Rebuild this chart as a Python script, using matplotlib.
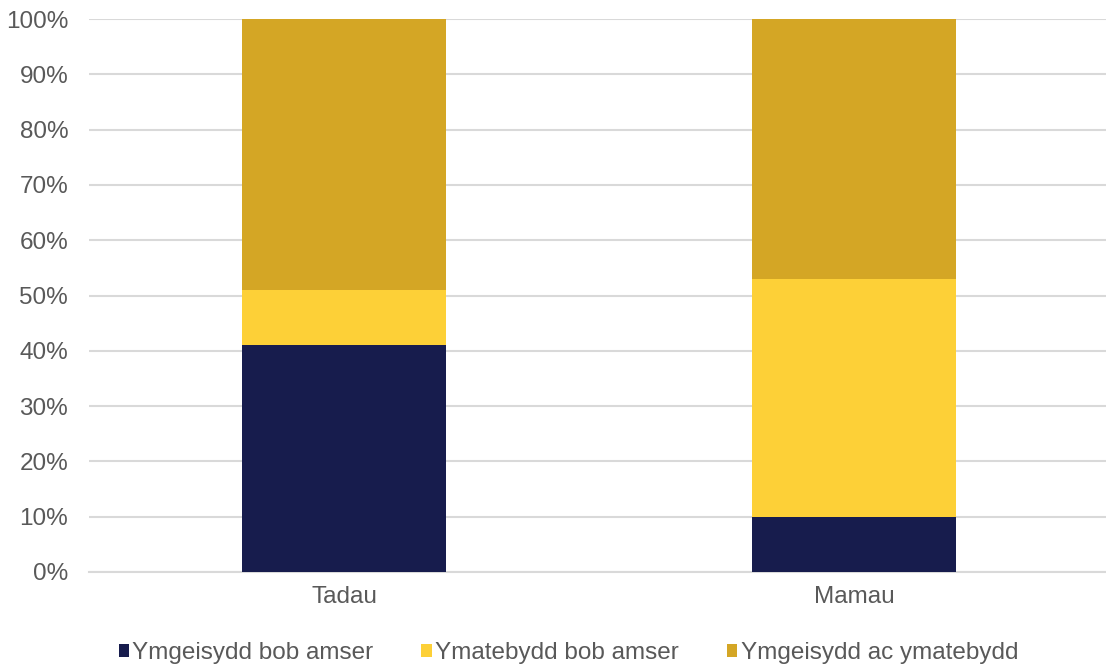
import matplotlib
matplotlib.use("Agg")
import matplotlib.pyplot as plt
import numpy as np

categories = ["Tadau", "Mamau"]
series_names = ["Ymgeisydd bob amser", "Ymatebydd bob amser", "Ymgeisydd ac ymatebydd"]
ymgeisydd = [41, 10]
ymatebydd = [10, 43]
y_ac_y = [49, 47]
colors = ["#171c4d", "#fdd037", "#d4a625"]

plt.rcParams['font.family'] = ['Liberation Sans', 'DejaVu Sans']
fig = plt.figure(figsize=(11.06, 6.66), dpi=100)
ax = fig.add_axes([89/1106, 1-572/666, 1020/1106, (572-19)/666])

x = np.arange(len(categories))
bottom = np.zeros(len(categories))
for vals, name, c in zip([ymgeisydd, ymatebydd, y_ac_y], series_names, colors):
    ax.bar(x, vals, width=0.4, bottom=bottom, color=c, label=name, zorder=3)
    bottom += np.array(vals)

ax.set_xlim(-0.5, 1.5)
ax.set_ylim(0, 100)
ax.set_yticks(np.arange(0, 101, 10))
ax.set_yticklabels([f"{v}%" for v in range(0, 101, 10)])
ax.set_xticks(x)
ax.set_xticklabels(categories)
ax.grid(axis='y', color='#d9d9d9', linewidth=1.5, zorder=0)
for s in ['top', 'right', 'left']:
    ax.spines[s].set_visible(False)
ax.spines['bottom'].set_color('#d9d9d9')
ax.spines['bottom'].set_linewidth(1.5)
ax.tick_params(axis='both', length=0, labelsize=17.5, labelcolor='#595959')
ax.tick_params(axis='y', pad=15)
ax.tick_params(axis='x', pad=10)

fig.legend(loc='center', bbox_to_anchor=(0.514, 1-653/666), ncol=3, frameon=False,
           fontsize=17.5, handlelength=0.42, handleheight=0.42, handletextpad=0.15,
           columnspacing=1.97, labelcolor='#595959')

fig.savefig("out.png", dpi=100)
